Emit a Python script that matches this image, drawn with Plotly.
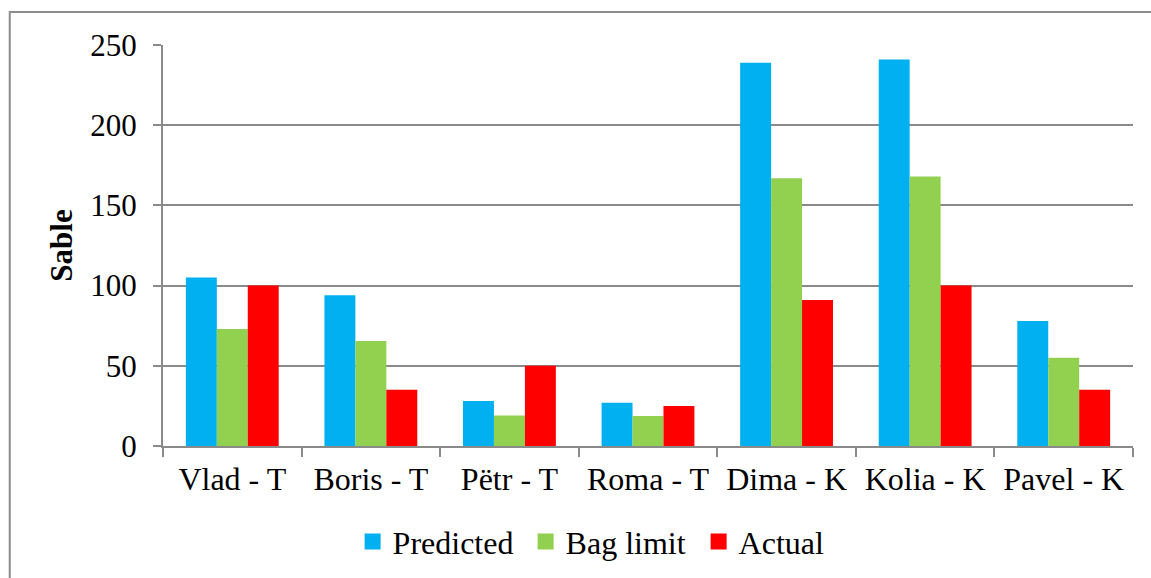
import plotly.graph_objects as go

# Sable counts per hunter
hunters = ["Vlad - T", "Boris - T", "Pëtr - T", "Roma - T", "Dima - K", "Kolia - K", "Pavel - K"]
predicted = [105, 94, 28, 27, 239, 241, 78]
bag_limit = [73, 65.5, 19, 18.7, 167, 168, 55]
actual = [100, 35, 50, 25, 91, 100, 35]
y_ticks = [0, 50, 100, 150, 200, 250]

FONT = "Liberation Serif, Times New Roman, serif"
GRID = "#8a8a8a"

series = [
    ("Predicted", predicted, "#00B0F0"),
    ("Bag limit", bag_limit, "#92D050"),
    ("Actual", actual, "#FF0000"),
]

fig = go.Figure()
for name, vals, color in series:
    fig.add_trace(go.Bar(x=hunters, y=vals, name=name, showlegend=False,
                         marker=dict(color=color, line=dict(width=0))))
# Legend keys drawn as larger squares
for name, vals, color in series:
    fig.add_trace(go.Scatter(x=[None], y=[None], mode="markers", name=name,
                             marker=dict(symbol="square", size=16, color=color)))

fig.update_layout(
    width=1151,
    height=578,
    margin=dict(l=163, r=18, t=45, b=132, autoexpand=False),
    paper_bgcolor="white",
    plot_bgcolor="white",
    barmode="group",
    bargap=0.33,
    bargroupgap=0,
    font=dict(family=FONT, color="black", size=31),
    legend=dict(
        orientation="h",
        x=0.463,
        xanchor="center",
        y=-0.17,
        yanchor="top",
        font=dict(size=32),
        itemwidth=30,
        entrywidthmode="pixels",
        entrywidth=128,
        tracegroupgap=0,
    ),
    xaxis=dict(
        type="category",
        showline=True,
        linecolor=GRID,
        linewidth=2,
        ticks="outside",
        tickson="boundaries",
        ticklen=9,
        tickwidth=2,
        tickcolor=GRID,
        tickfont=dict(size=32),
        ticklabelstandoff=4,
        showgrid=False,
    ),
    yaxis=dict(
        range=[0, 250],
        tickvals=y_ticks,
        showline=True,
        linecolor=GRID,
        linewidth=2,
        ticks="outside",
        ticklen=8,
        tickwidth=2,
        tickcolor=GRID,
        showgrid=True,
        gridcolor=GRID,
        gridwidth=2,
        zeroline=False,
        tickfont=dict(size=31),
        ticklabelstandoff=10,
        title=dict(text="<b>Sable</b>", font=dict(size=31), standoff=8),
    ),
)

# Outer chart frame
fig.add_shape(
    type="rect",
    xref="paper",
    yref="paper",
    x0=-0.158,
    x1=1.03,
    y0=-0.5,
    y1=1.082,
    line=dict(color="#8c8c8c", width=2),
    fillcolor="rgba(0,0,0,0)",
    layer="below",
)

fig.write_html("out.html")
